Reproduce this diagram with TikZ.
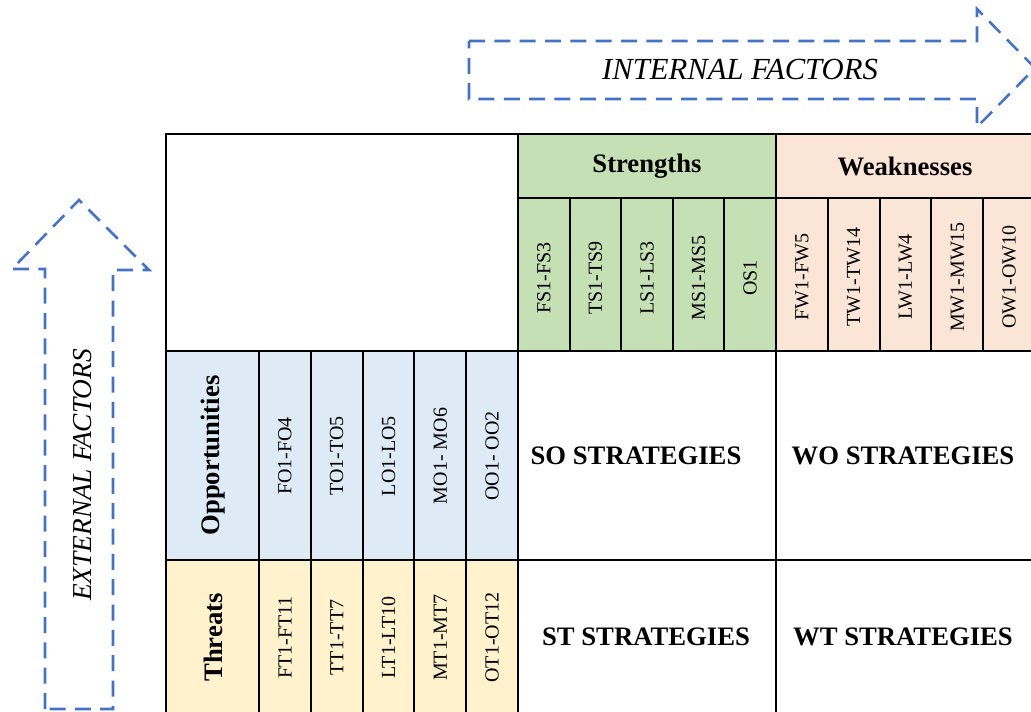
\documentclass[tikz,border=0pt]{standalone}
\usepackage{fontspec}
\setmainfont{Liberation Serif}
\usepackage{tikz}
\usetikzlibrary{positioning}
\definecolor{strongc}{HTML}{C5E0B4}
\definecolor{weakc}{HTML}{FBE5D6}
\definecolor{oppc}{HTML}{DEEBF7}
\definecolor{thrc}{HTML}{FFF2CC}
\definecolor{arrowc}{HTML}{4472C4}

\begin{document}
\begin{tikzpicture}[x=0.75pt, y=-0.75pt, line width=1.5pt,
    head/.style={font=\fontsize{20}{24}\selectfont\bfseries, inner sep=0pt},
    code/.style={font=\fontsize{15}{18}\selectfont, rotate=90, inner sep=0pt},
    factor/.style={font=\fontsize{23}{27}\selectfont\itshape, inner sep=0pt},
    bigarrow/.style={draw=arrowc, line width=1.9pt, dash pattern=on 12pt off 7pt, line join=miter}]
    \useasboundingbox (0,0) rectangle (1031,711);
    \clip (0,0) rectangle (1031,711);
    % factor arrows
    \draw[bigarrow] (469,41) -- (977,41) -- (977,9) -- (1035,68) -- (977,127) -- (977,99) -- (469,99) -- cycle;
    \node[factor] (internal) at (740,69) {INTERNAL FACTORS};
    \draw[bigarrow] (45,709) -- (45,269) -- (12,269) -- (79,200) -- (149,270) -- (113,270) -- (113,709) -- cycle;
    \node[factor, rotate=90, font=\fontsize{20.5}{24}\selectfont\itshape] (external) at (83,475) {EXTERNAL FACTORS};
    % table
    \draw[fill=white] (166,134) rectangle (518,351);
    \draw[fill=strongc] (518,134) rectangle (776,198);
    \node[head] (strengths) at (647,166) {Strengths};
    \draw[fill=weakc] (776,134) rectangle (1040,198);
    \node[head] (weaknesses) at (905,166) {Weaknesses};
    \foreach \lbl [count=\i] in {FS1-FS3,TS1-TS9,LS1-LS3,MS1-MS5,OS1} {
        \draw[fill=strongc] ({518+51.6*(\i-1)},198) rectangle ({518+51.6*\i},351);
        \node[code] (s\i) at ({518+51.6*(\i-0.5)},278) {\lbl};
    }
    \foreach \lbl [count=\i] in {FW1-FW5,TW1-TW14,LW1-LW4,MW1-MW15,OW1-OW10} {
        \draw[fill=weakc] ({776+51.8*(\i-1)},198) rectangle ({776+51.8*\i},351);
        \node[code] (w\i) at ({776+51.8*(\i-0.5)},277) {\lbl};
    }
    \draw[fill=oppc] (166,351) rectangle (259,560);
    \node[head, rotate=90] (opps) at (213,455.5) {Opportunities};
    \draw[fill=thrc] (166,560) rectangle (259,720);
    \node[head, rotate=90] (threats) at (213,637.5) {Threats};
    \foreach \lbl [count=\i] in {FO1-FO4,TO1-TO5,LO1-LO5,MO1- MO6,OO1- OO2} {
        \draw[fill=oppc] ({259+51.8*(\i-1)},351) rectangle ({259+51.8*\i},560);
        \node[code] (o\i) at ({259+51.8*(\i-0.5)},456) {\lbl};
    }
    \foreach \lbl [count=\i] in {FT1-FT11,TT1-TT7,LT1-LT10,MT1-MT7,OT1-OT12} {
        \draw[fill=thrc] ({259+51.8*(\i-1)},560) rectangle ({259+51.8*\i},720);
        \node[code] (t\i) at ({259+51.8*(\i-0.5)},637.5) {\lbl};
    }
    \draw (518,351) rectangle (776,560) (776,351) rectangle (1040,560);
    \draw (518,560) rectangle (776,720) (776,560) rectangle (1040,720);
    \node[head] (so) at (636,456) {SO STRATEGIES};
    \node[head] (wo) at (903,456) {WO STRATEGIES};
    \node[head] (st) at (646,637) {ST STRATEGIES};
    \node[head] (wt) at (903,637) {WT STRATEGIES};
\end{tikzpicture}
\end{document}
